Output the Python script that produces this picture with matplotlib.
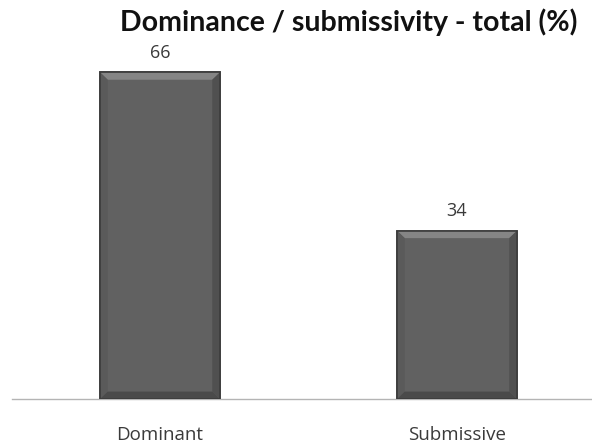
import matplotlib.pyplot as plt
from matplotlib.patches import Polygon

categories = ['Dominant', 'Submissive']
values = [66, 34]
title = 'Dominance / submissivity - total (%)'

plt.rcParams['font.family'] = ['Open Sans', 'DejaVu Sans']

fig = plt.figure(figsize=(5.92, 4.47), dpi=100)
# axis runs a little past the right edge, as the category slots are equal width
ax = fig.add_axes([11.5 / 592, 48 / 447, 594 / 592, 444 / 447])
ax.set_xlim(-0.5, 1.5)
ax.set_ylim(0, 89.7)

x = list(range(len(categories)))
width = 0.404
bars = ax.bar(x, values, width=width, color='#616161', edgecolor='#3c3c3c',
              linewidth=1.2, zorder=2)

# bevelled look: light top edge, darker sides and bottom
bx = 0.026
by = 1.5
for b in bars:
    x0, x1 = b.get_x(), b.get_x() + b.get_width()
    h = b.get_height()
    ax.add_patch(Polygon([(x0, h), (x1, h), (x1 - bx, h - by), (x0 + bx, h - by)],
                         closed=True, facecolor='#858585', edgecolor='none', zorder=3))
    ax.add_patch(Polygon([(x0, 0), (x0 + bx, by), (x0 + bx, h - by), (x0, h)],
                         closed=True, facecolor='#5a5a5a', edgecolor='none', zorder=3))
    ax.add_patch(Polygon([(x1, 0), (x1 - bx, by), (x1 - bx, h - by), (x1, h)],
                         closed=True, facecolor='#505050', edgecolor='none', zorder=3))
    ax.add_patch(Polygon([(x0, 0), (x1, 0), (x1 - bx, by), (x0 + bx, by)],
                         closed=True, facecolor='#4a4a4a', edgecolor='none', zorder=3))
    ax.add_patch(plt.Rectangle((x0, 0), x1 - x0, h, facecolor='none',
                               edgecolor='#3c3c3c', linewidth=1.2, zorder=4))
    ax.text(b.get_x() + b.get_width() / 2, h + 3.9, str(int(h)), ha='center',
            va='center', fontsize=13, color='#3a3a3a')

for xi, cat in zip(x, categories):
    ax.text(xi, -7.3, cat, ha='center', va='center', fontsize=13.5, color='#3a3a3a',
            clip_on=False)

for s in ['top', 'right', 'left']:
    ax.spines[s].set_visible(False)
ax.spines['bottom'].set_color('#b4b4b4')
ax.spines['bottom'].set_linewidth(1.0)
ax.set_xticks([])
ax.set_yticks([])
ax.patch.set_alpha(0)

fig.text(349 / 592, 1 - 22 / 447, title, ha='center', va='center',
         fontsize=20.5, fontweight='bold', family=['Lato', 'DejaVu Sans'],
         color='#111111')

fig.savefig('out.png', dpi=100)
